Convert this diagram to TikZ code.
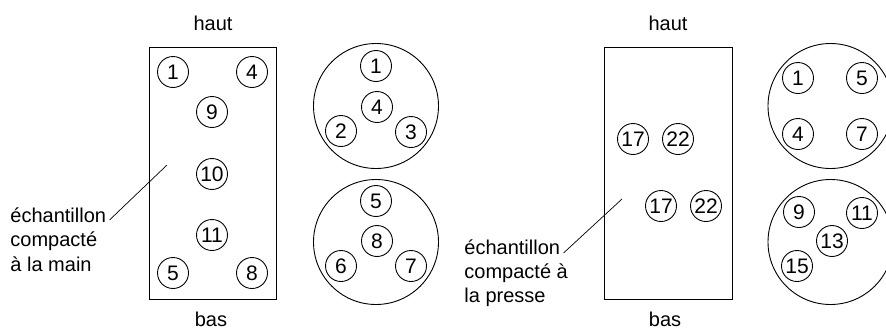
\documentclass[tikz,border=0pt]{standalone}
\usepackage{fontspec}
\setmainfont{Liberation Sans}
\begin{document}
\begin{tikzpicture}[x=1pt,y=-1pt,line width=0.9pt,
  every node/.style={font=\fontsize{20}{24}\selectfont},
  sc/.style={circle,draw,minimum size=31pt,inner sep=0pt,font=\fontsize{21}{24}\selectfont},
  bc/.style={circle,draw,minimum size=125pt,inner sep=0pt},
  txt/.style={inner sep=0pt,anchor=base west},
  ctxt/.style={inner sep=0pt,anchor=base}]
\useasboundingbox (0,0) rectangle (886,330);
% ---------- left part ----------
\node[ctxt] (hautA) at (213,30) {haut};
\node[ctxt] (basA) at (211,326) {bas};
\node[draw,minimum width=127pt,minimum height=252pt,inner sep=0pt] (rectA) at (212.5,173) {};
\node[sc] (a1) at (173,72) {1};
\node[sc] (a4) at (252,72) {4};
\node[sc] (a9) at (212,112) {9};
\node[sc] (a10) at (212,174) {10};
\node[sc] (a11) at (212,235) {11};
\node[sc] (a5) at (173,273) {5};
\node[sc] (a8) at (252,273) {8};
\node[bc] (bA1) at (376,106) {};
\node[sc] (b1) at (376,66) {1};
\node[sc] (b4) at (377,107) {4};
\node[sc] (b2) at (341,131) {2};
\node[sc] (b3) at (411,132) {3};
\node[bc] (bA2) at (376,242) {};
\node[sc] (c5) at (376,201) {5};
\node[sc] (c8) at (377,241) {8};
\node[sc] (c6) at (341,266) {6};
\node[sc] (c7) at (411,266) {7};
\node[txt] (lA1) at (10,222) {échantillon};
\node[txt] (lA2) at (10,246.5) {compacté};
\node[txt] (lA3) at (10,271) {à la main};
\coordinate (pA) at (167,165);
\draw[line width=0.7pt] ([shift={(3,-2)}]lA1.base east) -- (pA);
% ---------- right part ----------
\node[ctxt] (hautB) at (668,30) {haut};
\node[ctxt] (basB) at (665,326) {bas};
\node[draw,minimum width=128pt,minimum height=252pt,inner sep=0pt] (rectB) at (668,173) {};
\node[sc] (d17) at (633,139) {17};
\node[sc] (d22) at (678,139) {22};
\node[sc] (e17) at (661,206) {17};
\node[sc] (e22) at (706,206) {22};
\node[bc] (bB1) at (830.5,106) {};
\node[sc] (f1) at (798,78) {1};
\node[sc] (f5) at (862,78) {5};
\node[sc] (f4) at (798,134) {4};
\node[sc] (f7) at (862,134) {7};
\node[bc] (bB2) at (830.5,242) {};
\node[sc] (g9) at (799,212) {9};
\node[sc] (g11) at (862,213) {11};
\node[sc] (g13) at (832,241) {13};
\node[sc] (g15) at (797,266) {15};
\node[txt] (lB1) at (464,254) {échantillon};
\node[txt] (lB2) at (464,278) {compacté à};
\node[txt] (lB3) at (464,302) {la presse};
\coordinate (pB) at (622,199);
\draw[line width=0.7pt] ([shift={(3,-1)}]lB1.base east) -- (pB);
\end{tikzpicture}
\end{document}
